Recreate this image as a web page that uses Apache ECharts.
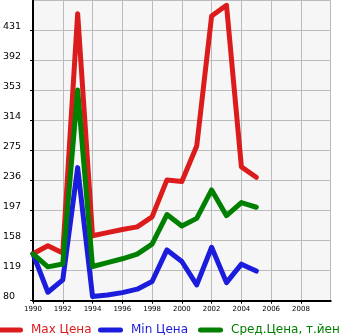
<!DOCTYPE html>
<html>
<head>
<meta charset="utf-8">
<script src="https://cdn.jsdelivr.net/npm/echarts@6/dist/echarts.min.js"></script>
<style>
  html, body { margin: 0; padding: 0; background: #ffffff; }
  #chart { width: 345px; height: 335px; }
</style>
</head>
<body>
<div id="chart"></div>
<script>
// Price history by year
var years = [1990, 1991, 1992, 1993, 1994, 1995, 1996, 1997, 1998, 1999, 2000, 2001, 2002, 2003, 2004, 2005];
var maxPrice = [141, 151.5, 142, 453, 164.5, 168.5, 172.5, 176, 189, 237, 235, 281, 450, 464, 254, 240.5];
var minPrice = [141, 91, 107, 253, 85.5, 87.5, 90.5, 95, 105, 146, 131, 100.5, 149.5, 103.5, 127.5, 118.5];
var avgPrice = [141, 124, 127.7, 354, 124.5, 129.5, 134.5, 140.5, 153.5, 192, 177, 187, 224, 190.5, 207.5, 201.5];
var seriesNames = ['Max Цена', 'Min Цена', 'Сред.Цена, т.йен'];
var seriesColors = ['#dc1c1c', '#1c1cdc', '#008000'];

function pairs(vals) {
  return years.map(function (y, i) { return [y, vals[i]]; });
}

var chart = echarts.init(document.getElementById('chart'), null, { renderer: 'canvas' });

var pill = 'path://M2.5,0L22.5,0A2.5,2.5,0,0,1,22.5,5L2.5,5A2.5,2.5,0,0,1,2.5,0Z';
var legendLefts = [-2, 98, 198];

function makeLegend(i) {
  return {
    data: [seriesNames[i]],
    left: legendLefts[i],
    top: 324,
    icon: pill,
    itemWidth: 25,
    itemHeight: 5,
    padding: 0,
    textStyle: { color: seriesColors[i], fontFamily: 'DejaVu Sans', fontSize: 12, padding: [0, 0, 0, 3] },
    selectedMode: false
  };
}

var option = {
  animation: false,
  backgroundColor: '#ffffff',
  grid: {
    left: 30.5, right: 14.3, top: 0.7, bottom: 34.3,
    show: true, backgroundColor: '#f6f6f6', borderWidth: 0
  },
  legend: [makeLegend(0), makeLegend(1), makeLegend(2)],
  xAxis: {
    type: 'value', min: 1990, max: 2010, interval: 2,
    axisLine: { show: true, onZero: false, lineStyle: { color: '#000', width: 2 } },
    axisTick: { show: true, length: 3, lineStyle: { color: '#000', width: 1 } },
    axisLabel: {
      color: '#000', fontFamily: 'DejaVu Sans', fontSize: 7, margin: 5,
      showMaxLabel: false,
      formatter: function (v) { return v === 2010 ? '' : String(v); }
    },
    splitLine: { show: true, lineStyle: { color: '#bbbbbb', width: 1 } }
  },
  yAxis: {
    type: 'value', min: 80, max: 470, interval: 39,
    axisLine: { show: true, onZero: false, lineStyle: { color: '#000', width: 2 } },
    axisTick: { show: true, length: 3, lineStyle: { color: '#000', width: 1 } },
    axisLabel: {
      color: '#000', fontFamily: 'DejaVu Sans', fontSize: 9.5,
      align: 'left', margin: 30, verticalAlign: 'bottom', lineHeight: 9,
      showMaxLabel: false,
      formatter: function (v) { return v === 470 ? '' : String(v); }
    },
    splitLine: { show: true, lineStyle: { color: '#bbbbbb', width: 1 } }
  },
  series: [maxPrice, minPrice, avgPrice].map(function (vals, i) {
    return {
      name: seriesNames[i],
      type: 'line',
      data: pairs(vals),
      showSymbol: false,
      symbol: 'none',
      color: seriesColors[i],
      lineStyle: { color: seriesColors[i], width: 5, cap: 'round', join: 'round' }
    };
  })
};

chart.setOption(option);
</script>
</body>
</html>
